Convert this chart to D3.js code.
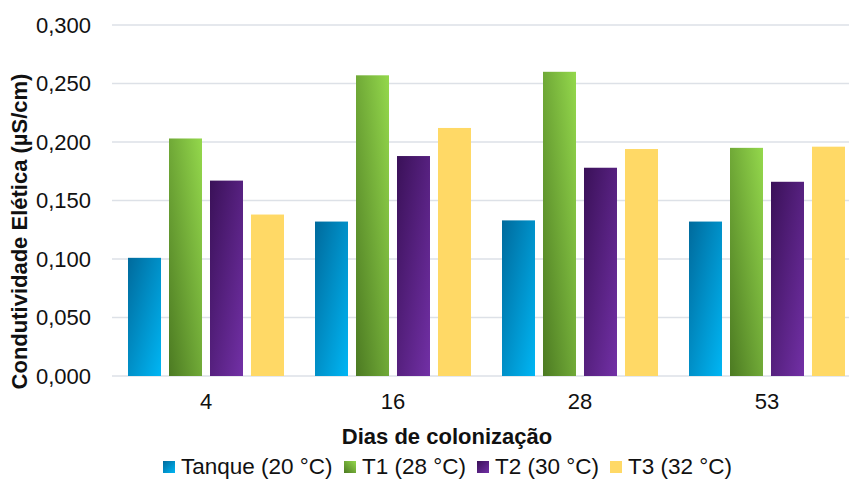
<!DOCTYPE html>
<html>
<head>
<meta charset="utf-8">
<script src="https://cdn.jsdelivr.net/npm/d3@7"></script>
<style>
  html, body { margin: 0; padding: 0; background: #fff; }
  svg { display: block; font-family: "Liberation Sans", Arial, sans-serif; }
</style>
</head>
<body>
<svg id="chart" width="849" height="479"></svg>
<script>
// Days of colonization (x categories)
const days = ["4", "16", "28", "53"];
// Series names (legend)
const seriesNames = ["Tanque (20 °C)", "T1 (28 °C)", "T2 (30 °C)", "T3 (32 °C)"];
// Electrical conductivity (µS/cm) per series, in the order of `days`
const tanque = [0.101, 0.132, 0.133, 0.132];
const t1 = [0.203, 0.257, 0.260, 0.195];
const t2 = [0.167, 0.188, 0.178, 0.166];
const t3 = [0.138, 0.212, 0.194, 0.196];
const seriesValues = [tanque, t1, t2, t3];
// Y-axis tick values
const yTicks = [0, 0.05, 0.10, 0.15, 0.20, 0.25, 0.30];

const svg = d3.select("#chart");
const fmt = v => d3.format(".3f")(v).replace(".", ",");

// Gradient fills for each series
const grads = [
  { id: "g0", x1: 0, y1: 0, x2: 1, y2: 1, from: "#006a9c", to: "#00b6f4" },
  { id: "g1", x1: 0, y1: 1, x2: 1, y2: 0, from: "#4c7a22", to: "#94d84c" },
  { id: "g2", x1: 0, y1: 0, x2: 1, y2: 1, from: "#3a1158", to: "#7230a6" },
  { id: "g3", x1: 0, y1: 0, x2: 1, y2: 1, from: "#ffd966", to: "#ffd966" }
];
const defs = svg.append("defs");
grads.forEach(g => {
  const lg = defs.append("linearGradient").attr("id", g.id)
    .attr("x1", g.x1).attr("y1", g.y1).attr("x2", g.x2).attr("y2", g.y2);
  lg.append("stop").attr("offset", 0).attr("stop-color", g.from);
  lg.append("stop").attr("offset", 1).attr("stop-color", g.to);
});

const x = d3.scaleBand().domain(days).range([112.5, 860.5]).padding(0);
const xs = d3.scaleBand().domain(d3.range(seriesNames.length))
  .range([15.5, 171.5]).paddingInner(0.195).paddingOuter(0);
const y = d3.scaleLinear().domain([0, 0.3]).range([376, 25]);

// Horizontal gridlines
svg.append("g").selectAll("line").data(yTicks).join("line")
  .attr("x1", 112).attr("x2", 849)
  .attr("y1", d => y(d)).attr("y2", d => y(d))
  .attr("stroke", "#dde1e7").attr("stroke-width", 1.6);

// Y tick labels
svg.append("g").selectAll("text").data(yTicks).join("text")
  .attr("x", 91).attr("y", d => y(d)).attr("dy", "0.36em")
  .attr("text-anchor", "end").attr("font-size", 22).attr("fill", "#111")
  .text(fmt);

// Bars
const groups = svg.append("g").selectAll("g").data(days).join("g")
  .attr("transform", d => `translate(${x(d)},0)`);
groups.selectAll("rect")
  .data((d, i) => seriesValues.map((s, k) => ({ k, v: s[i] })))
  .join("rect")
  .attr("x", d => xs(d.k)).attr("width", xs.bandwidth())
  .attr("y", d => y(d.v)).attr("height", d => y(0) - y(d.v))
  .attr("fill", d => `url(#g${d.k})`);

// X tick labels
svg.append("g").selectAll("text").data(days).join("text")
  .attr("x", d => x(d) + x.bandwidth() / 2).attr("y", 409)
  .attr("text-anchor", "middle").attr("font-size", 22).attr("fill", "#111")
  .text(d => d);

// Axis titles
svg.append("text").attr("x", 447).attr("y", 444)
  .attr("text-anchor", "middle").attr("font-size", 22).attr("font-weight", "bold")
  .attr("fill", "#111").text("Dias de colonização");
svg.append("text").attr("transform", "translate(27,231.5) rotate(-90)")
  .attr("text-anchor", "middle").attr("font-size", 22).attr("font-weight", "bold")
  .attr("fill", "#111").text("Condutividade Elética (µS/cm)");

// Legend
const legendX = [163, 344, 477, 610];
const leg = svg.append("g").selectAll("g").data(seriesNames).join("g")
  .attr("transform", (d, i) => `translate(${legendX[i]},0)`);
leg.append("rect").attr("x", 0).attr("y", 461).attr("width", 12).attr("height", 12)
  .attr("fill", (d, i) => `url(#g${i})`);
leg.append("text").attr("x", 18).attr("y", 473.5).attr("font-size", 22.5)
  .attr("fill", "#111").text(d => d);
</script>
</body>
</html>
